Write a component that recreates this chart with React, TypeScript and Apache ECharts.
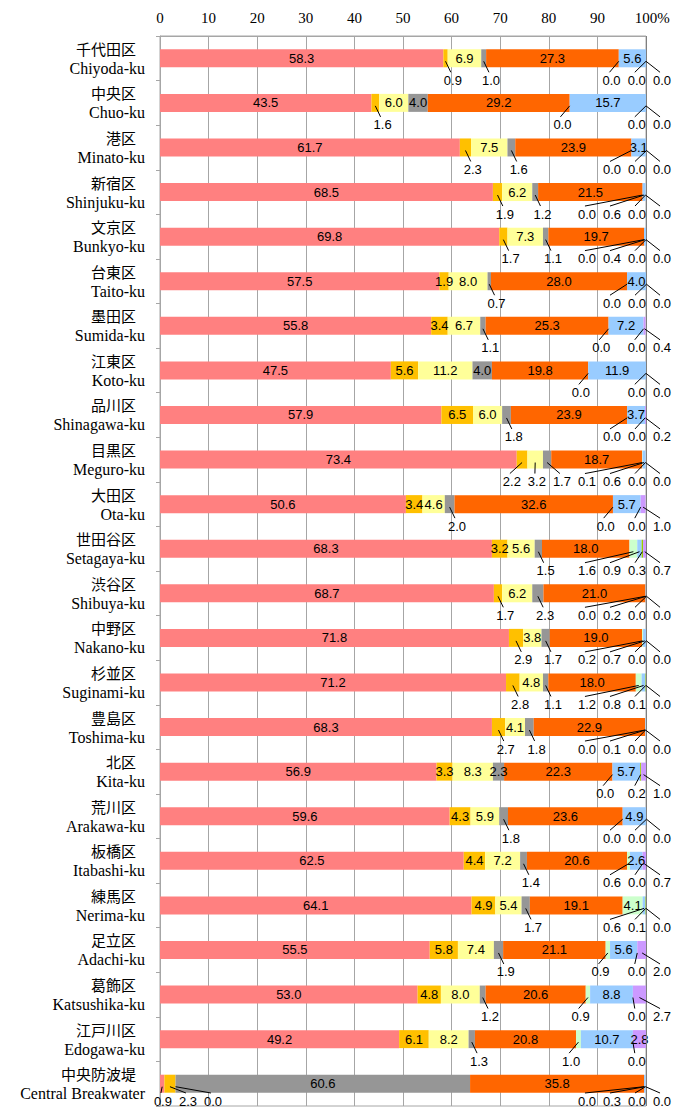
import React, { useEffect, useRef } from "react";
import * as echarts from "echarts";

const categoriesJa = ["千代田区","中央区","港区","新宿区","文京区","台東区","墨田区","江東区","品川区","目黒区","大田区","世田谷区","渋谷区","中野区","杉並区","豊島区","北区","荒川区","板橋区","練馬区","足立区","葛飾区","江戸川区","中央防波堤"];
const categoriesEn = ["Chiyoda-ku","Chuo-ku","Minato-ku","Shinjuku-ku","Bunkyo-ku","Taito-ku","Sumida-ku","Koto-ku","Shinagawa-ku","Meguro-ku","Ota-ku","Setagaya-ku","Shibuya-ku","Nakano-ku","Suginami-ku","Toshima-ku","Kita-ku","Arakawa-ku","Itabashi-ku","Nerima-ku","Adachi-ku","Katsushika-ku","Edogawa-ku","Central Breakwater"];

const xTicks = [0, 10, 20, 30, 40, 50, 60, 70, 80, 90, 100];

const seriesPink = [58.3,43.5,61.7,68.5,69.8,57.5,55.8,47.5,57.9,73.4,50.6,68.3,68.7,71.8,71.2,68.3,56.9,59.6,62.5,64.1,55.5,53.0,49.2,0.9];
const seriesGold = [0.9,1.6,2.3,1.9,1.7,1.9,3.4,5.6,6.5,2.2,3.4,3.2,1.7,2.9,2.8,2.7,3.3,4.3,4.4,4.9,5.8,4.8,6.1,2.3];
const seriesYellow = [6.9,6.0,7.5,6.2,7.3,8.0,6.7,11.2,6.0,3.2,4.6,5.6,6.2,3.8,4.8,4.1,8.3,5.9,7.2,5.4,7.4,8.0,8.2,0.0];
const seriesGray = [1.0,4.0,1.6,1.2,1.1,0.7,1.1,4.0,1.8,1.7,2.0,1.5,2.3,1.7,1.1,1.8,2.3,1.8,1.4,1.7,1.9,1.2,1.3,60.6];
const seriesOrange = [27.3,29.2,23.9,21.5,19.7,28.0,25.3,19.8,23.9,18.7,32.6,18.0,21.0,19.0,18.0,22.9,22.3,23.6,20.6,19.1,21.1,20.6,20.8,35.8];
const seriesGreen = [0.0,0.0,0.0,0.0,0.0,0.0,0.0,0.0,0.0,0.1,0.0,1.6,0.0,0.2,1.2,0.0,0.0,0.0,0.6,4.1,0.9,0.9,1.0,0.0];
const seriesBlue = [5.6,15.7,3.1,0.6,0.4,4.0,7.2,11.9,3.7,0.6,5.7,0.9,0.2,0.7,0.8,0.1,5.7,4.9,2.6,0.6,5.6,8.8,10.7,0.3];
const seriesLime = [0.0,0.0,0.0,0.0,0.0,0.0,0.0,0.0,0.0,0.0,0.0,0.3,0.0,0.0,0.1,0.0,0.2,0.0,0.0,0.1,0.0,0.0,0.0,0.0];
const seriesPurple = [0.0,0.0,0.0,0.0,0.0,0.0,0.4,0.0,0.2,0.0,1.0,0.7,0.0,0.0,0.0,0.0,1.0,0.0,0.7,0.0,2.0,2.7,2.8,0.0];

const allSeries = [seriesPink, seriesGold, seriesYellow, seriesGray, seriesOrange, seriesGreen, seriesBlue, seriesLime, seriesPurple];
const seriesNames = ["A", "B", "C", "D", "E", "F", "G", "H", "I"];
const colors = ["#FF8080", "#FFC000", "#FFFF99", "#969696", "#FF6600", "#CCFFCC", "#99CCFF", "#99CC00", "#CC99FF"];

// label placement config: [category index, series index]
const forceInside = [[5, 1], [16, 3], [18, 6], [22, 8]];
const forceBelow = [[9, 2]];

const LABEL_FONT = '13px "Liberation Sans", Arial, sans-serif';

function isInside(ci: number, si: number): boolean {
  if (forceInside.some(([c, s]) => c === ci && s === si)) return true;
  if (forceBelow.some(([c, s]) => c === ci && s === si)) return false;
  return allSeries[si][ci] >= 3;
}

const GAP = 5.15;
const MINX = 0.6;
const MAXX = 103.3;

function layoutRow(desired: number[]): number[] {
  const clusters: number[][] = [];
  const pos = (c: number[]) => {
    let s = 0;
    c.forEach((d, j) => (s += d - j * GAP));
    let p = s / c.length;
    p = Math.max(MINX, Math.min(MAXX - (c.length - 1) * GAP, p));
    return p;
  };
  for (const d of desired) {
    clusters.push([d]);
    while (clusters.length > 1) {
      const b = clusters[clusters.length - 1];
      const a = clusters[clusters.length - 2];
      if (pos(a) + a.length * GAP > pos(b) + 1e-9) {
        clusters.pop();
        clusters.pop();
        clusters.push(a.concat(b));
      } else break;
    }
  }
  const out: number[] = [];
  clusters.forEach((c) => {
    const p = pos(c);
    c.forEach((_, j) => out.push(p + j * GAP));
  });
  return out;
}

function buildBelowLabels() {
  const items: any[] = [];
  const texts: string[] = [];
  for (let ci = 0; ci < categoriesJa.length; ci++) {
    let acc = 0;
    const row: { si: number; start: number; end: number; desired: number }[] = [];
    for (let si = 0; si < allSeries.length; si++) {
      const v = allSeries[si][ci];
      const start = acc;
      const end = acc + v;
      acc = end;
      if (isInside(ci, si)) continue;
      const mid = (start + end) / 2;
      let desired = mid + 1.5;
      if (si === 5) desired = mid - 1.5;
      else if (si === 6) desired = 93.1;
      else if (si === 7) desired = 98.1;
      else if (si === 8) desired = 103.3;
      row.push({ si, start, end, desired });
    }
    const xs = layoutRow(row.map((r) => r.desired));
    row.forEach((r, k) => {
      items.push([ci, r.si, r.start, r.end, xs[k]]);
      texts.push(allSeries[r.si][ci].toFixed(1));
    });
  }
  return { items, texts };
}

export default function App() {
  const ref = useRef<HTMLDivElement>(null);
  useEffect(() => {
    document.body.style.margin = "0";
    if (!ref.current) return;
    const chart = echarts.init(ref.current, null, { renderer: "svg" });
    const below = buildBelowLabels();
    const H = 1109;

    const barSeries = allSeries.map((data, si) => ({
      name: seriesNames[si],
      type: "bar",
      stack: "total",
      barWidth: 18,
      data,
      itemStyle: { color: colors[si] },
      label: {
        show: true,
        position: "inside",
        color: "#000",
        fontFamily: '"Liberation Sans", Arial, sans-serif',
        fontSize: 13,
        formatter: (p: any) => (isInside(p.dataIndex, si) ? Number(p.value).toFixed(1) : ""),
      },
      emphasis: { disabled: true },
      silent: true,
      ...(si === 0
        ? {
            markLine: {
              silent: true,
              symbol: "none",
              label: { show: false },
              lineStyle: { color: "#7f7f7f", type: "solid", width: 1 },
              data: [{ xAxis: 100 }],
            },
          }
        : {}),
    }));

    const labelSeries = {
      type: "custom",
      z: 5,
      silent: true,
      data: below.items,
      encode: { x: [2, 3], y: 0 },
      renderItem: (params: any, api: any) => {
        const cat = api.value(0);
        const mid = (api.value(2) + api.value(3)) / 2;
        const lx = api.value(4);
        const p0 = api.coord([mid, cat]);
        const p1 = api.coord([lx, cat]);
        const yc = p0[1];
        const ty = Math.min(yc + 22, H - 8);
        return {
          type: "group",
          children: [
            {
              type: "line",
              shape: { x1: p0[0], y1: yc + 3, x2: p1[0] - 2, y2: ty - 8 },
              style: { stroke: "#000", lineWidth: 1 },
            },
            {
              type: "text",
              x: p1[0],
              y: ty,
              style: {
                text: below.texts[params.dataIndex],
                fill: "#000",
                font: LABEL_FONT,
                align: "center",
                verticalAlign: "middle",
              },
            },
          ],
        };
      },
    };

    chart.setOption({
      animation: false,
      grid: { left: 160, right: 48, top: 36, bottom: 3, show: true, borderColor: "#a6a6a6", borderWidth: 1 },
      xAxis: {
        type: "value",
        position: "top",
        min: 0,
        max: 100,
        interval: 10,
        axisLine: { show: true, lineStyle: { color: "#a6a6a6" } },
        axisTick: { show: false },
        splitLine: { show: true, lineStyle: { color: "#a6a6a6", width: 1 } },
        axisLabel: {
          margin: 11,
          color: "#000",
          fontFamily: '"Liberation Serif", serif',
          fontSize: 15,
          formatter: (v: number) => (v === 100 ? "{s|}100%" : String(v)),
          rich: { s: { width: 12.5 } },
        },
        data: xTicks,
      },
      yAxis: {
        type: "category",
        inverse: true,
        data: categoriesJa.map((_, i) => i),
        axisLine: { show: true, lineStyle: { color: "#a6a6a6" } },
        axisTick: { show: true, length: 4, lineStyle: { color: "#a6a6a6" } },
        axisLabel: {
          margin: 15,
          color: "#000",
          formatter: (_v: any, i: number) => `{ja|${categoriesJa[i]}}\n{en|${categoriesEn[i]}}`,
          rich: {
            ja: {
              fontFamily: '"Noto Sans CJK JP", sans-serif',
              fontSize: 15,
              lineHeight: 20,
              align: "right",
              padding: [0, 9, 0, 0],
              color: "#000",
            },
            en: {
              fontFamily: '"Liberation Serif", serif',
              fontSize: 16,
              lineHeight: 20,
              align: "right",
              color: "#000",
            },
          },
        },
      },
      series: [...barSeries, labelSeries],
    });
    return () => chart.dispose();
  }, []);
  return <div ref={ref} style={{ width: 694, height: 1109 }} />;
}
